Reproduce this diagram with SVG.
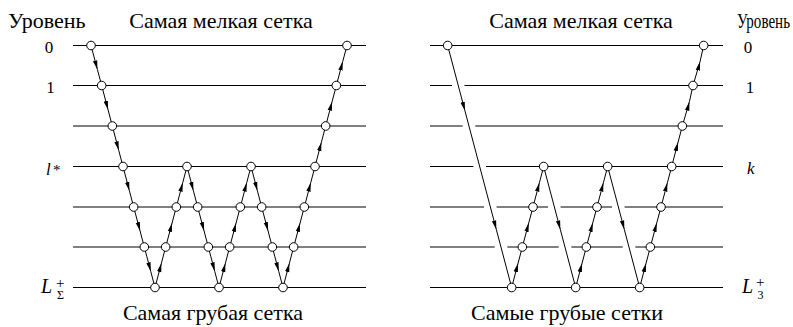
<svg xmlns="http://www.w3.org/2000/svg" width="793" height="327" viewBox="0 0 793 327" font-family="Liberation Serif, DejaVu Serif, serif">
<style>
  .big{font-size:22px}
  .lv{font-size:17px}
  .it{font-style:italic}
  .grid{stroke:#000;stroke-width:1;fill:none}
  .c{stroke:#000;stroke-width:1;fill:none;marker-mid:url(#ah)}
  .n circle{fill:#fff;stroke:#000;stroke-width:1}
</style>
<defs>
  <marker id="ah" markerUnits="userSpaceOnUse" markerWidth="10" markerHeight="6" viewBox="0 0 10 6" refX="9" refY="3" orient="auto">
    <path d="M0,0.8 L9,3 L0,5.2 Z" fill="#000"/>
  </marker>
</defs>

<g id="labels" fill="#000">
  <text class="big" x="8" y="28">Уровень</text>
  <text class="big" x="221" y="28" text-anchor="middle">Самая мелкая сетка</text>
  <text class="big" x="581" y="28" text-anchor="middle">Самая мелкая сетка</text>
  <text class="big" x="737" y="28" textLength="53" lengthAdjust="spacingAndGlyphs">Уровень</text>
  <text class="big" x="213" y="320" text-anchor="middle">Самая грубая сетка</text>
  <text class="big" x="567" y="320" text-anchor="middle">Самые грубые сетки</text>

  <text class="lv" x="49" y="52.5" text-anchor="middle">0</text>
  <text class="lv" x="50.5" y="92.5" text-anchor="middle">1</text>
  <text class="lv" x="46" y="174.5"><tspan class="it">l</tspan><tspan x="53" font-size="15">*</tspan></text>
  <text x="41" y="293" font-size="20"><tspan class="it">L</tspan><tspan x="56" y="287.5" font-size="15">+</tspan><tspan x="57" y="299" font-size="12">Σ</tspan></text>

  <text class="lv" x="748" y="52.5" text-anchor="middle">0</text>
  <text class="lv" x="750" y="92.5" text-anchor="middle">1</text>
  <text class="lv it" x="747" y="174">k</text>
  <text x="742" y="293" font-size="20"><tspan class="it">L</tspan><tspan x="756" y="287" font-size="15">+</tspan><tspan x="757.5" y="299" font-size="12">3</tspan></text>
</g>

<g id="levels" class="grid">
  <path d="M73,45.5H366 M73,85.5H366 M73,126H366 M73,166.5H366 M73,207H366 M73,247H366 M73,287.5H366"/>
  <path d="M430,45.5H723
           M430,85.5H452 M464.5,85.5H723
           M430,126H462.7 M475.3,126H723
           M430,166.5H473.4 M486,166.5H723
           M430,207H484 M496.6,207H548 M560.6,207H612 M624.6,207H723
           M430,247H494.7 M507.3,247H558.7 M571.3,247H622.7 M635.3,247H723
           M430,287.5H723"/>
</g>

<g id="connectors">
  <path class="c" d="M91,45.5 L97.4,69.5 L101.67,85.5"/>
  <path class="c" d="M101.67,85.5 L108.07,109.8 L112.33,126"/>
  <path class="c" d="M112.33,126 L118.73,150.3 L123,166.5"/>
  <path class="c" d="M123,166.5 L129.4,190.8 L133.67,207"/>
  <path class="c" d="M133.67,207 L140.07,231 L144.33,247"/>
  <path class="c" d="M144.33,247 L150.73,271.3 L155,287.5"/>
  <path class="c" d="M155,287.5 L161.4,263.2 L165.67,247"/>
  <path class="c" d="M165.67,247 L172.07,223 L176.33,207"/>
  <path class="c" d="M176.33,207 L182.73,182.7 L187,166.5"/>
  <path class="c" d="M187,166.5 L193.4,190.8 L197.67,207"/>
  <path class="c" d="M197.67,207 L204.07,231 L208.33,247"/>
  <path class="c" d="M208.33,247 L214.73,271.3 L219,287.5"/>
  <path class="c" d="M219,287.5 L225.4,263.2 L229.67,247"/>
  <path class="c" d="M229.67,247 L236.07,223 L240.33,207"/>
  <path class="c" d="M240.33,207 L246.73,182.7 L251,166.5"/>
  <path class="c" d="M251,166.5 L257.4,190.8 L261.67,207"/>
  <path class="c" d="M261.67,207 L268.07,231 L272.33,247"/>
  <path class="c" d="M272.33,247 L278.73,271.3 L283,287.5"/>
  <path class="c" d="M283,287.5 L289.4,263.2 L293.67,247"/>
  <path class="c" d="M293.67,247 L300.07,223 L304.33,207"/>
  <path class="c" d="M304.33,207 L310.73,182.7 L315,166.5"/>
  <path class="c" d="M315,166.5 L321.4,142.2 L325.67,126"/>
  <path class="c" d="M325.67,126 L332.07,101.7 L336.33,85.5"/>
  <path class="c" d="M336.33,85.5 L342.73,61.5 L347,45.5"/>

  <path class="c" d="M447.67,45.5 L464.95,110.8 L496.31,229.4 L511.67,287.5"/>
  <path class="c" d="M511.67,287.5 L518.07,263.2 L522.33,247"/>
  <path class="c" d="M522.33,247 L528.73,223 L533,207"/>
  <path class="c" d="M533,207 L539.4,182.7 L543.67,166.5"/>
  <path class="c" d="M543.67,166.5 L560.31,229.4 L575.67,287.5"/>
  <path class="c" d="M575.67,287.5 L582.07,263.2 L586.33,247"/>
  <path class="c" d="M586.33,247 L592.73,223 L597,207"/>
  <path class="c" d="M597,207 L603.4,182.7 L607.67,166.5"/>
  <path class="c" d="M607.67,166.5 L624.31,229.4 L639.67,287.5"/>
  <path class="c" d="M639.67,287.5 L646.07,263.2 L650.33,247"/>
  <path class="c" d="M650.33,247 L656.73,223 L661,207"/>
  <path class="c" d="M661,207 L667.4,182.7 L671.67,166.5"/>
  <path class="c" d="M671.67,166.5 L678.07,142.2 L682.33,126"/>
  <path class="c" d="M682.33,126 L689.4,101.7 L693,85.5"/>
  <path class="c" d="M693,85.5 L700.07,61.5 L703.67,45.5"/>
</g>

<g class="n">
  <g id="a0"><circle cx="91" cy="45.5" r="4.3"/></g>
  <g id="a1"><circle cx="101.67" cy="85.5" r="4.3"/></g>
  <g id="a2"><circle cx="112.33" cy="126" r="4.3"/></g>
  <g id="a3"><circle cx="123" cy="166.5" r="4.3"/></g>
  <g id="a4"><circle cx="133.67" cy="207" r="4.3"/></g>
  <g id="a5"><circle cx="144.33" cy="247" r="4.3"/></g>
  <g id="a6"><circle cx="155" cy="287.5" r="4.3"/></g>
  <g id="a7"><circle cx="165.67" cy="247" r="4.3"/></g>
  <g id="a8"><circle cx="176.33" cy="207" r="4.3"/></g>
  <g id="a9"><circle cx="187" cy="166.5" r="4.3"/></g>
  <g id="a10"><circle cx="197.67" cy="207" r="4.3"/></g>
  <g id="a11"><circle cx="208.33" cy="247" r="4.3"/></g>
  <g id="a12"><circle cx="219" cy="287.5" r="4.3"/></g>
  <g id="a13"><circle cx="229.67" cy="247" r="4.3"/></g>
  <g id="a14"><circle cx="240.33" cy="207" r="4.3"/></g>
  <g id="a15"><circle cx="251" cy="166.5" r="4.3"/></g>
  <g id="a16"><circle cx="261.67" cy="207" r="4.3"/></g>
  <g id="a17"><circle cx="272.33" cy="247" r="4.3"/></g>
  <g id="a18"><circle cx="283" cy="287.5" r="4.3"/></g>
  <g id="a19"><circle cx="293.67" cy="247" r="4.3"/></g>
  <g id="a20"><circle cx="304.33" cy="207" r="4.3"/></g>
  <g id="a21"><circle cx="315" cy="166.5" r="4.3"/></g>
  <g id="a22"><circle cx="325.67" cy="126" r="4.3"/></g>
  <g id="a23"><circle cx="336.33" cy="85.5" r="4.3"/></g>
  <g id="a24"><circle cx="347" cy="45.5" r="4.3"/></g>

  <g id="b0"><circle cx="447.67" cy="45.5" r="4.3"/></g>
  <g id="b6"><circle cx="511.67" cy="287.5" r="4.3"/></g>
  <g id="b7"><circle cx="522.33" cy="247" r="4.3"/></g>
  <g id="b8"><circle cx="533" cy="207" r="4.3"/></g>
  <g id="b9"><circle cx="543.67" cy="166.5" r="4.3"/></g>
  <g id="b12"><circle cx="575.67" cy="287.5" r="4.3"/></g>
  <g id="b13"><circle cx="586.33" cy="247" r="4.3"/></g>
  <g id="b14"><circle cx="597" cy="207" r="4.3"/></g>
  <g id="b15"><circle cx="607.67" cy="166.5" r="4.3"/></g>
  <g id="b18"><circle cx="639.67" cy="287.5" r="4.3"/></g>
  <g id="b19"><circle cx="650.33" cy="247" r="4.3"/></g>
  <g id="b20"><circle cx="661" cy="207" r="4.3"/></g>
  <g id="b21"><circle cx="671.67" cy="166.5" r="4.3"/></g>
  <g id="b22"><circle cx="682.33" cy="126" r="4.3"/></g>
  <g id="b23"><circle cx="693" cy="85.5" r="4.3"/></g>
  <g id="b24"><circle cx="703.67" cy="45.5" r="4.3"/></g>
</g>
</svg>
